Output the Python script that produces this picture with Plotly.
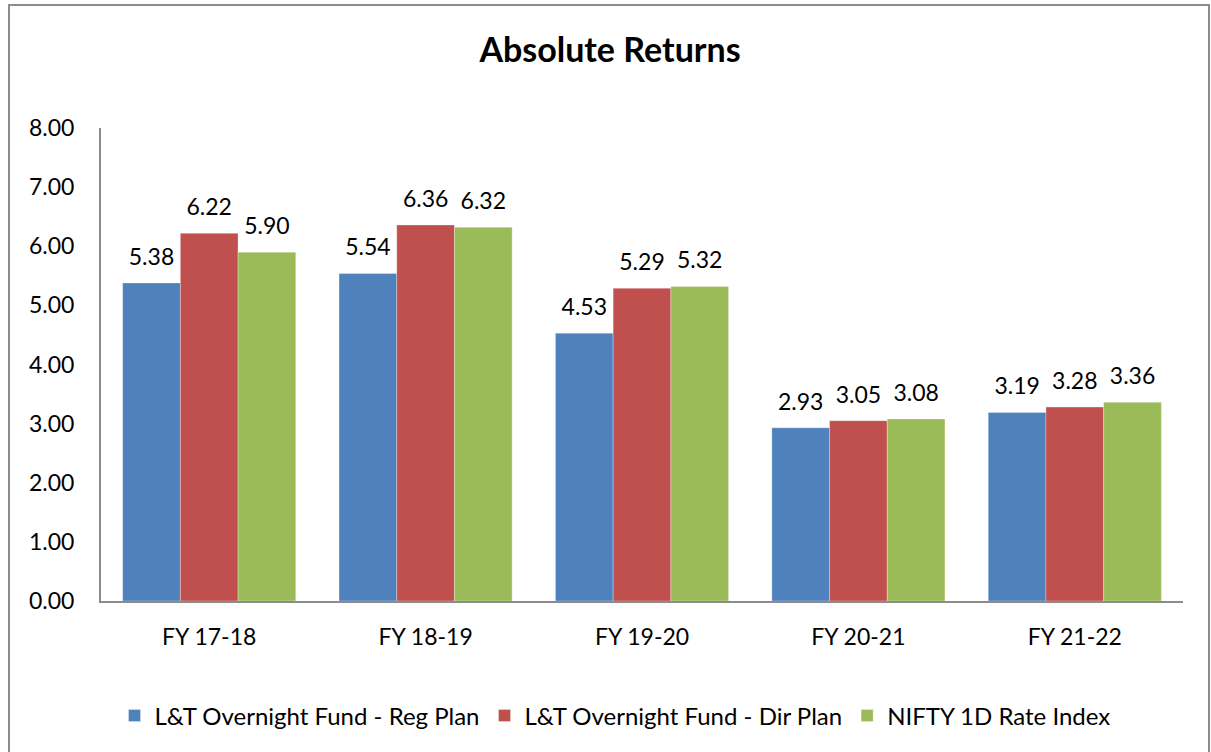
import plotly.graph_objects as go

categories = ["FY 17-18", "FY 18-19", "FY 19-20", "FY 20-21", "FY 21-22"]
reg_plan = [5.38, 5.54, 4.53, 2.93, 3.19]
dir_plan = [6.22, 6.36, 5.29, 3.05, 3.28]
nifty = [5.90, 6.32, 5.32, 3.08, 3.36]
series_names = ["L&T Overnight Fund - Reg Plan", "L&T Overnight Fund - Dir Plan", "NIFTY 1D Rate Index"]
colors = ["#4F81BD", "#C0504D", "#9BBB59"]
y_ticks = [0, 1, 2, 3, 4, 5, 6, 7, 8]

FONT = "Lato"
fig = go.Figure()
for name, vals, col in zip(series_names, [reg_plan, dir_plan, nifty], colors):
    fig.add_trace(go.Bar(
        x=categories, y=vals, name=name,
        marker=dict(color=col, line=dict(color="rgba(255,255,255,0.6)", width=0.5)),
        text=[f"{v:.2f}" for v in vals], textposition="outside",
        texttemplate="<span style='font-size:23px'>%{text}</span><br> ",
        textfont=dict(family=FONT, size=10, color="black"),
        cliponaxis=False,
    ))

L, R, T, B = 101, 1183, 128, 601
W, H = 1211, 752
pw, ph = R - L, B - T

def px(x):
    return (x - L) / pw

def py(y):
    return (B - y) / ph

fig.update_layout(
    width=W, height=H,
    margin=dict(l=L, r=W - R, t=T, b=H - B, autoexpand=False),
    paper_bgcolor="white", plot_bgcolor="white",
    barmode="group", bargap=0.2, bargroupgap=0,
    title=dict(text="<b>Absolute Returns</b>", x=px(610), xref="paper", xanchor="center",
               y=1 - 50 / H, yanchor="middle",
               font=dict(family=FONT, size=34, color="black")),
    font=dict(family=FONT, size=23, color="black"),
    showlegend=True,
    legend=dict(orientation="h", x=px(615), xanchor="center", y=py(716), yanchor="middle",
                font=dict(family=FONT, size=24, color="black"),
                itemwidth=30, tracegroupgap=0),
    xaxis=dict(showline=True, linecolor="#8c8c8c", linewidth=2, ticks="",
               ticklabelstandoff=14,
               tickfont=dict(family=FONT, size=23, color="black"), showgrid=False),
    yaxis=dict(range=[0, 8], tickvals=y_ticks, tickformat=".2f", showline=True,
               linecolor="#8c8c8c", linewidth=2, ticks="", showgrid=False,
               ticklabelstandoff=20,
               tickfont=dict(family=FONT, size=23, color="black"), zeroline=False),
    shapes=[dict(type="rect", xref="paper", yref="paper",
                 x0=px(9), x1=px(1209), y0=py(5), y1=py(760),
                 line=dict(color="#8c8c8c", width=2), fillcolor="rgba(0,0,0,0)", layer="below")],
)

fig.write_html("out.html", config={"displayModeBar": False},
               post_script="document.body.style.margin='0';document.body.style.padding='0';")
